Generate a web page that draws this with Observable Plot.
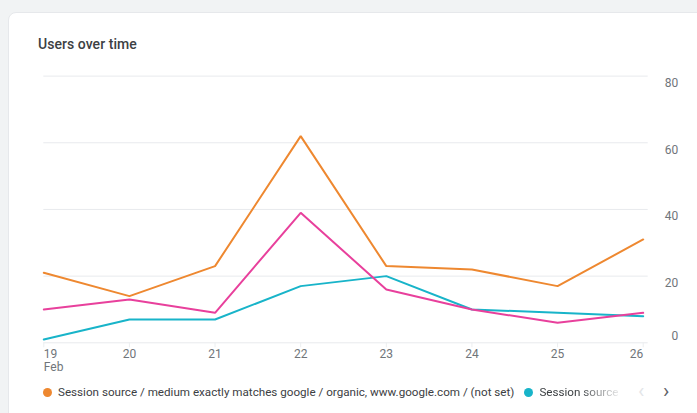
<!DOCTYPE html>
<html>
<head>
<meta charset="utf-8">
<script src="https://cdn.jsdelivr.net/npm/d3@7"></script>
<script src="https://cdn.jsdelivr.net/npm/@observablehq/plot@0.6"></script>
<style>
  html, body { margin: 0; padding: 0; }
  body { width: 697px; height: 413px; background: #f1f3f4; position: relative; overflow: hidden; font-family: Roboto, "Noto Sans", sans-serif; }
  #card { position: absolute; left: 8px; top: 12px; width: 720px; height: 420px; background: #fff; border-radius: 8px; border: 1px solid #e6e8eb; box-sizing: border-box; }
  #title { position: absolute; left: 38px; top: 36px; font-size: 14px; font-weight: 500; color: #3c4043; letter-spacing: 0.05px; }
  #chart { position: absolute; left: 0; top: 60px; }
  #legend { position: absolute; left: 43px; top: 383px; height: 18px; font-size: 11.65px; color: #3c4043; white-space: nowrap; display: flex; align-items: center; }
  .dot { display: inline-block; width: 9px; height: 9px; border-radius: 50%; margin-right: 6px; }
  .item { display: inline-flex; align-items: center; margin-right: 10px; }
  .fade { -webkit-mask-image: linear-gradient(to right, #000 50%, rgba(0,0,0,0.12) 100%); mask-image: linear-gradient(to right, #000 50%, rgba(0,0,0,0.12) 100%); display: inline-block; }
  .arrow { position: absolute; top: 378px; font-size: 21px; line-height: 26px; color: #5f6368; }
</style>
</head>
<body>
<div id="card"></div>
<div id="title">Users over time</div>
<div id="chart"></div>
<div id="legend"></div>
<div class="arrow" style="left:638px; color:#e3e5e8;">‹</div>
<div class="arrow" style="left:663px;">›</div>
<script>
const days = [19, 20, 21, 22, 23, 24, 25, 26];
const monthLabel = "Feb";
const seriesNames = [
  "Session source / medium exactly matches google / organic, www.google.com / (not set)",
  "Session source",
  "Session source / medium (3)"
];
const seriesColors = ["#ee8830", "#18b4c9", "#e8409c"];
const organicUsers = [21, 14, 23, 62, 23, 22, 17, 31];
const secondUsers = [1, 7, 7, 17, 20, 10, 9, 8];
const thirdUsers = [10, 13, 9, 39, 16, 10, 6, 9];
const yTicks = [0, 20, 40, 60, 80];

const seriesValues = [organicUsers, secondUsers, thirdUsers];
const rows = [];
seriesValues.forEach((vals, s) => vals.forEach((v, i) => rows.push({series: seriesNames[s], day: days[i], users: v})));
const drawOrder = [1, 2, 0];

const marks = [
  Plot.ruleY(yTicks, {y: d => d, stroke: "#e8eaed", strokeWidth: 1, insetRight: -5}),
  Plot.axisX({ticks: days, tickSize: 5, tickFormat: () => "", label: null, stroke: "#eceef0"}),
  Plot.text(yTicks.filter(d => d !== 0), {y: d => d, text: d => String(d), frameAnchor: "right", dx: 35, dy: 7, textAnchor: "end", fill: "#70757a", fontSize: 12}),
  Plot.text(yTicks.filter(d => d === 0), {y: d => d, text: d => String(d), frameAnchor: "right", dx: 35, dy: -7, textAnchor: "end", fill: "#70757a", fontSize: 12}),
  Plot.text(days.slice(0, 1), {x: d => d, y: () => 0, text: d => String(d), dy: 11, textAnchor: "start", fill: "#70757a", fontSize: 12}),
  Plot.text(days.slice(0, 1), {x: d => d, y: () => 0, text: () => monthLabel, dy: 24, textAnchor: "start", fill: "#70757a", fontSize: 12}),
  Plot.text(days.slice(1, -1), {x: d => d, y: () => 0, text: d => String(d), dy: 11, textAnchor: "middle", fill: "#70757a", fontSize: 12}),
  Plot.text(days.slice(-1), {x: d => d, y: () => 0, text: d => String(d), dy: 11, textAnchor: "end", fill: "#70757a", fontSize: 12})
];
drawOrder.forEach(s => {
  marks.push(Plot.line(rows.filter(r => r.series === seriesNames[s]), {x: "day", y: "users", stroke: seriesColors[s], strokeWidth: 2, strokeLinejoin: "miter"}));
});

const chart = Plot.plot({
  width: 697,
  height: 310,
  marginLeft: 43.3,
  marginRight: 54.3,
  marginTop: 15.6,
  marginBottom: 27.7,
  style: {fontFamily: "Roboto, 'Noto Sans', sans-serif", background: "transparent", overflow: "visible"},
  x: {domain: [days[0], days[days.length - 1]], axis: null},
  y: {domain: [0, 80], axis: null},
  marks
});
document.getElementById("chart").appendChild(chart);

const legend = document.getElementById("legend");
legend.innerHTML =
  `<span class="item"><span class="dot" style="background:${seriesColors[0]}"></span>${seriesNames[0]}</span>` +
  `<span class="item" style="margin-right:0"><span class="dot" style="background:${seriesColors[1]}"></span><span class="fade">${seriesNames[1]}</span></span>`;
</script>
</body>
</html>
